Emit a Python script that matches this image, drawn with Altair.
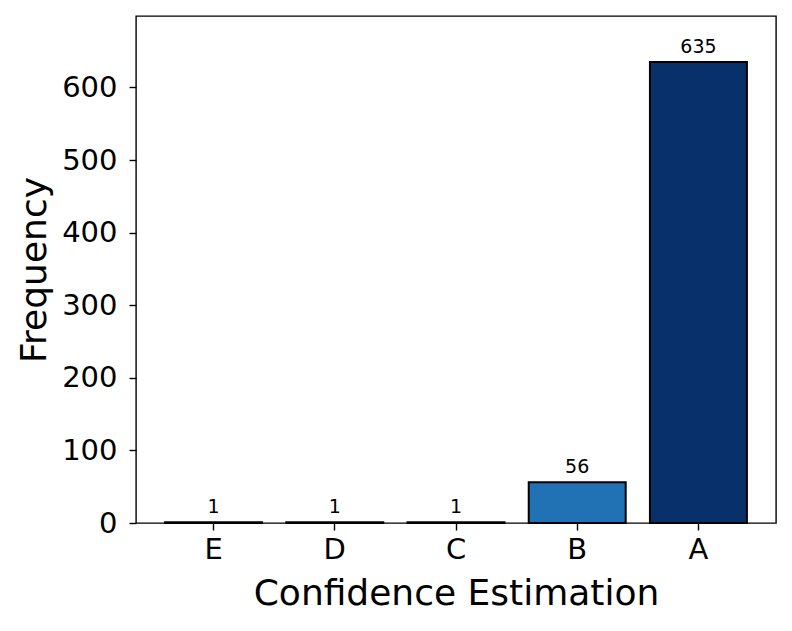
import altair as alt
import pandas as pd

categories = ["E", "D", "C", "B", "A"]
frequencies = [1, 1, 1, 56, 635]
colors = ["#deebf7", "#c6dbef", "#9ecae1", "#2171b5", "#08306b"]

df = pd.DataFrame({"cat": categories, "freq": frequencies, "color": colors})

font = "DejaVu Sans"

x = alt.X("cat:N", sort=categories, title="Confidence Estimation",
          scale=alt.Scale(paddingInner=0.2, paddingOuter=0.24),
          axis=alt.Axis(labelAngle=0, labelFontSize=29, titleFontSize=36,
                        labelFont=font, titleFont=font, labelColor="black",
                        titleColor="black", tickColor="black", tickWidth=1.4,
                        tickSize=7, labelPadding=5, titlePadding=12, titleFontWeight="normal",
                        domain=False))
y = alt.Y("freq:Q", title="Frequency",
          scale=alt.Scale(domain=[0, 698.5], nice=False, zero=True),
          axis=alt.Axis(values=[0, 100, 200, 300, 400, 500, 600], labelFontSize=29,
                        titleFontSize=36, labelFont=font, titleFont=font,
                        labelColor="black", titleColor="black", tickColor="black",
                        tickWidth=1.4, domain=False, grid=False, tickSize=7, labelPadding=12,
                        titlePadding=8, titleFontWeight="normal"))

bars = alt.Chart(df).mark_bar(stroke="black", strokeWidth=2).encode(
    x=x, y=y, color=alt.Color("color:N", scale=None)
)
labels = alt.Chart(df).mark_text(baseline="bottom", dy=-5, fontSize=19, font=font,
                                 color="black").encode(
    x=alt.X("cat:N", sort=categories), y="freq:Q", text="freq:Q"
)

chart = (bars + labels).properties(
    width=640, height=507,
    autosize=alt.AutoSizeParams(type="none"),
    padding={"left": 128, "top": 8, "right": 8, "bottom": 100},
).configure_view(stroke="black", strokeWidth=1.4).configure_axis(grid=False)

chart.save("out.html", embed_options={"renderer": "svg", "actions": False})
